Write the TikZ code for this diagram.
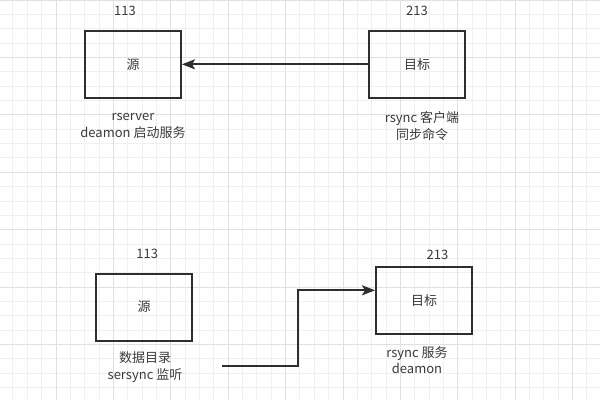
\documentclass[tikz,border=0pt]{standalone}
\usepackage{fontspec}
\setmainfont{Noto Sans CJK SC}
\usetikzlibrary{positioning,arrows.meta}
\definecolor{gridminor}{HTML}{F0F0F0}
\definecolor{gridmajor}{HTML}{E0E0E0}
\definecolor{edge}{HTML}{2E2E2E}
\definecolor{txt}{HTML}{3A3A3A}

\begin{document}
\begin{tikzpicture}[x=1pt, y=-1pt,
    every node/.style={font=\fontsize{13}{16.5}\selectfont, text=txt},
    hostbox/.style={draw=edge, line width=2pt, minimum width=96pt, minimum height=67pt, inner sep=0pt},
    iplabel/.style={inner sep=0pt},
    note/.style={align=center, inner sep=0pt},
    link/.style={draw=edge, line width=2pt, -{Stealth[length=13pt,width=10pt,inset=3pt]}}]
  \useasboundingbox (0,0) rectangle (600,400);
  \fill[white] (0,0) rectangle (600,400);

  % grid
  \foreach \k in {0,...,41} {
    \draw[gridminor, line width=1pt] (12.95+\k*14.35, 0) -- ++(0, 400);
    \draw[gridminor, line width=1pt] (0, 0.1+\k*14.35) -- ++(600, 0);
  }
  \foreach \k in {0,...,10} {
    \draw[gridmajor, line width=1pt] (56+\k*57.4, 0) -- ++(0, 400);
    \draw[gridmajor, line width=1pt] (0, 0.1+\k*57.4) -- ++(600, 0);
  }

  % hosts
  \node[hostbox] (src1) at (133,64.3) {源};
  \node[hostbox] (dst1) at (417,64.3) {目标};
  \node[hostbox] (src2) at (144.2,307) {源};
  \node[hostbox] (dst2) at (424,300.6) {目标};

  \node[iplabel, above=13.5pt of src1, xshift=-8pt] (ip1) {113};
  \node[iplabel, above=13.5pt of dst1] (ip2) {213};
  \node[iplabel, above=13.5pt of src2, xshift=3pt] (ip3) {113};
  \node[iplabel, above=6.5pt of dst2, xshift=13.5pt] (ip4) {213};

  \node[note] (note1) at (133,126) {rserver\\deamon 启动服务};
  \node[note] (note2) at (422,126) {rsync 客户端\\同步命令};
  \node[note] (note3) at (145,367) {数据目录\\sersync 监听};
  \node[note] (note4) at (417,360) {rsync 服务\\deamon};

  % connectors
  \draw[link] (dst1.west) -- (src1.east);
  \coordinate (tail) at (222,366.3);
  \coordinate (bend) at (298.3,366.3);
  \draw[link] (tail) -- (bend) |- ([yshift=10.3pt]dst2.west);
\end{tikzpicture}
\end{document}
